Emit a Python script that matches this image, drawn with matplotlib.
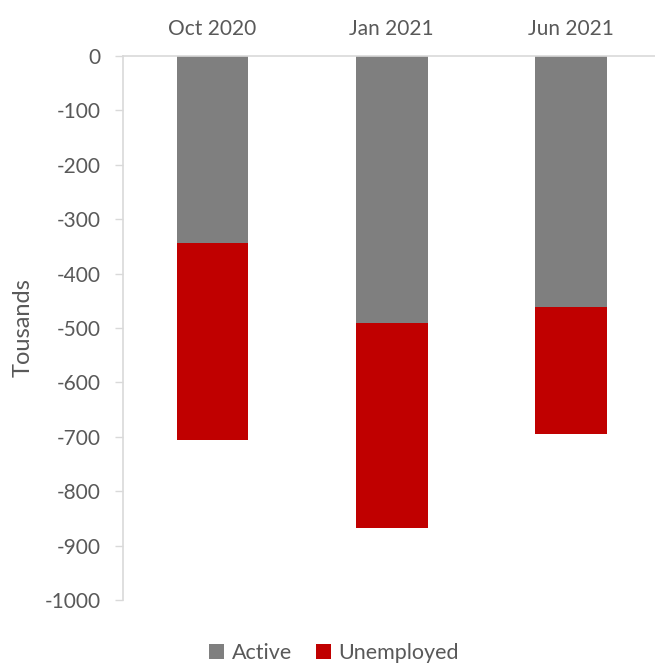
import numpy as np
import matplotlib.pyplot as plt

plt.rcParams['font.family'] = ['Lato', 'DejaVu Sans']
plt.rcParams['axes.unicode_minus'] = False

periods = ['Oct 2020', 'Jan 2021', 'Jun 2021']
active = [-343, -491, -461]
unemployed = [-362, -377, -234]

grey = '#7f7f7f'
red = '#c00000'
txt = '#595959'

fig = plt.figure(figsize=(6.55, 6.64), dpi=100)
ax = fig.add_axes([123 / 655, 64 / 664, 532 / 655, 544 / 664])

x = np.arange(len(periods))
ax.bar(x, active, width=0.4, color=grey, label='Active')
ax.bar(x, unemployed, width=0.4, bottom=active, color=red, label='Unemployed')

ax.set_ylim(-1000, 0)
ax.set_xlim(-0.5, 2.47)
ax.set_yticks(np.arange(-1000, 1, 100))
ax.set_xticks(x)
ax.set_xticklabels(periods)
ax.xaxis.tick_top()
ax.tick_params(axis='x', length=0, pad=12, labelsize=15, colors=txt)
ax.tick_params(axis='y', length=6, width=1, color='#d9d9d9', pad=10,
               labelsize=15, colors=txt)

for s in ['right', 'bottom']:
    ax.spines[s].set_visible(False)
ax.spines['left'].set_color('#d9d9d9')
ax.spines['top'].set_color('#d9d9d9')
ax.spines['left'].set_linewidth(1.2)
ax.spines['top'].set_linewidth(1.2)

ax.set_ylabel('Tousands', fontsize=17, color=txt, labelpad=8)

fig.legend(loc='lower center', bbox_to_anchor=(0.51, -0.028), ncol=2, frameon=False,
           fontsize=15.5, labelcolor=txt, handlelength=0.7, handleheight=0.7,
           handletextpad=0.35, columnspacing=1.1)

fig.savefig('out.png', dpi=100)
